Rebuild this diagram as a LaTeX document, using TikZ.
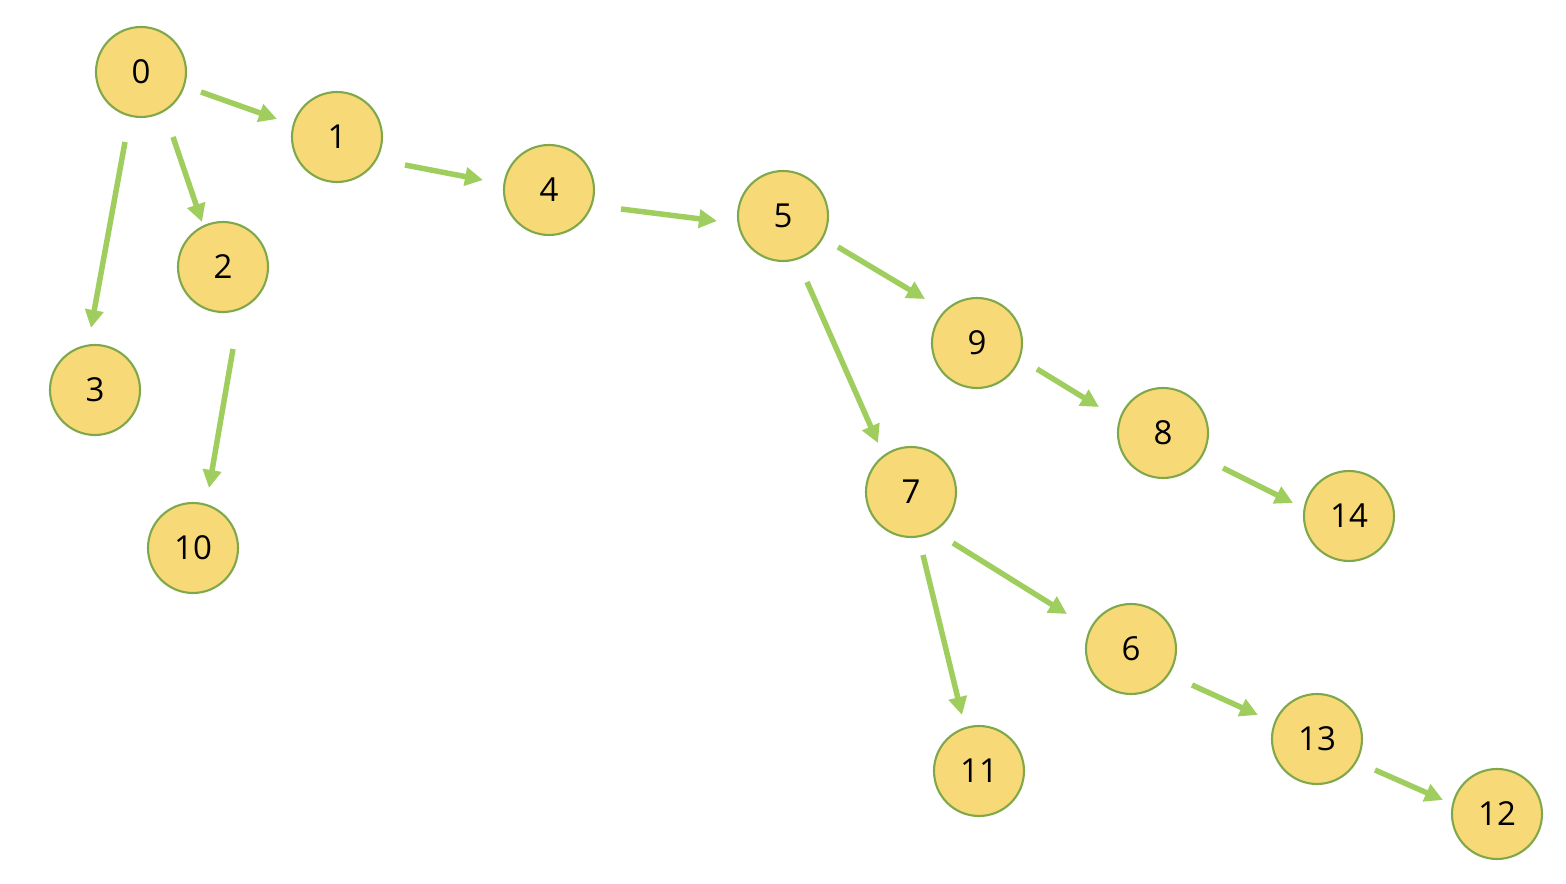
\documentclass[tikz,border=0pt]{standalone}
\usepackage{fontspec}
\setmainfont{Open Sans}
\usetikzlibrary{arrows.meta}
\definecolor{nodefill}{HTML}{F8D978}
\definecolor{nodeline}{HTML}{7FA84A}
\definecolor{edgegreen}{HTML}{A0CE5E}

\begin{document}
\begin{tikzpicture}[
  font=\fontsize{9.4}{11}\selectfont,
  vtx/.style={circle,draw=nodeline,fill=nodefill,line width=0.6pt,
              minimum size=0.9cm,inner sep=0pt},
  edge/.style={-{Triangle[length=0.18cm,width=0.18cm]},line width=0.055cm,
               edgegreen}
]
\useasboundingbox (0,0) rectangle (15.66,-8.84);
% Vertices
\node[vtx] (n0)  at (1.41,-0.72) {0};
\node[vtx] (n1)  at (3.37,-1.37) {1};
\node[vtx] (n2)  at (2.23,-2.67) {2};
\node[vtx] (n3)  at (0.95,-3.90) {3};
\node[vtx] (n4)  at (5.49,-1.90) {4};
\node[vtx] (n5)  at (7.83,-2.16) {5};
\node[vtx] (n9)  at (9.77,-3.43) {9};
\node[vtx] (n8)  at (11.63,-4.33) {8};
\node[vtx] (n14) at (13.49,-5.16) {14};
\node[vtx] (n7)  at (9.11,-4.92) {7};
\node[vtx] (n6)  at (11.31,-6.49) {6};
\node[vtx] (n13) at (13.17,-7.39) {13};
\node[vtx] (n12) at (14.97,-8.14) {12};
\node[vtx] (n10) at (1.93,-5.48) {10};
\node[vtx] (n11) at (9.79,-7.71) {11};

% Edges (free-floating arrows between the circles)
\draw[edge] ([shift={(0.60,-0.20)}]n0.center) -- ([shift={(-0.60,0.18)}]n1.center);
\draw[edge] ([shift={(0.32,-0.65)}]n0.center) -- ([shift={(-0.21,0.45)}]n2.center);
\draw[edge] ([shift={(-0.16,-0.70)}]n0.center) -- ([shift={(-0.04,0.62)}]n3.center);
\draw[edge] ([shift={(0.10,-0.82)}]n2.center) -- ([shift={(0.16,0.60)}]n10.center);
\draw[edge] ([shift={(0.68,-0.28)}]n1.center) -- ([shift={(-0.66,0.10)}]n4.center);
\draw[edge] ([shift={(0.72,-0.19)}]n4.center) -- ([shift={(-0.66,-0.05)}]n5.center);
\draw[edge] ([shift={(0.55,-0.31)}]n5.center) -- ([shift={(-0.52,0.44)}]n9.center);
\draw[edge] ([shift={(0.24,-0.66)}]n5.center) -- ([shift={(-0.33,0.49)}]n7.center);
\draw[edge] ([shift={(0.60,-0.26)}]n9.center) -- ([shift={(-0.64,0.26)}]n8.center);
\draw[edge] ([shift={(0.60,-0.35)}]n8.center) -- ([shift={(-0.56,0.13)}]n14.center);
\draw[edge] ([shift={(0.42,-0.51)}]n7.center) -- ([shift={(-0.64,0.35)}]n6.center);
\draw[edge] ([shift={(0.12,-0.63)}]n7.center) -- ([shift={(-0.17,0.56)}]n11.center);
\draw[edge] ([shift={(0.61,-0.36)}]n6.center) -- ([shift={(-0.59,0.24)}]n13.center);
\draw[edge] ([shift={(0.58,-0.31)}]n13.center) -- ([shift={(-0.54,0.14)}]n12.center);
\end{tikzpicture}
\end{document}
